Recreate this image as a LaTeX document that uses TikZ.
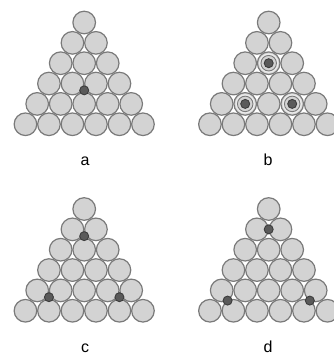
\documentclass[tikz,border=0pt]{standalone}
\usepackage{fontspec}
\setmainfont{Liberation Sans}
\usetikzlibrary{calc}
\definecolor{ballfill}{RGB}{211,211,211}
\definecolor{balledge}{RGB}{122,122,122}
\definecolor{dotfill}{RGB}{90,90,90}
\definecolor{dotedge}{RGB}{60,60,60}
\begin{document}
\begin{tikzpicture}[x=1pt,y=-1pt,
  ball/.style={circle,draw=balledge,fill=ballfill,line width=1.2pt,minimum size=22.6pt,inner sep=0pt},
  dotnode/.style={circle,draw=dotedge,fill=dotfill,line width=0.9pt,minimum size=9pt,inner sep=0pt},
  halo/.style={circle,fill=ballfill!45!white,minimum size=19.5pt,inner sep=0pt},
  ring/.style={circle,draw=balledge,fill=ballfill,line width=0.9pt,minimum size=15.5pt,inner sep=0pt},
  lab/.style={font=\fontsize{16}{18}\selectfont,anchor=base,inner sep=0pt}]
\useasboundingbox (0,0) rectangle (333,354);
\def\bsep{23.5}
\def\vsep{20.35}
\foreach \nm/\cx/\cy in {a/84.2/22.5, b/268.7/22.5, c/84.2/209, d/268.7/209}{
  \foreach \r in {0,...,5}{
    \foreach \k in {0,...,\r}{
      \node[ball] (\nm-\r-\k) at ({\cx+(\k-\r/2)*\bsep},{\cy+\r*\vsep}) {};
    }
  }
}
% a
\node[dotnode] (a-dot) at ($(a-3-1)!0.5!(a-3-2)!0.3333!(a-4-2)$) {};
% b
\foreach \p in {2-1,4-1,4-3}{
  \node[halo] (b-halo-\p) at (b-\p) {};
  \node[ring] (b-ring-\p) at (b-\p) {};
  \node[dotnode] (b-dot-\p) at (b-\p) {};
}
% c
\node[dotnode] (c-dot-1) at ($(c-1-0)!0.5!(c-1-1)!0.3333!(c-2-1)$) {};
\node[dotnode] (c-dot-2) at ($(c-4-0)!0.5!(c-4-1)!0.3333!(c-5-1)$) {};
\node[dotnode] (c-dot-3) at ($(c-4-3)!0.5!(c-4-4)!0.3333!(c-5-4)$) {};
% d
\node[dotnode] (d-dot-1) at ($(d-1-0)!0.5!(d-1-1)$) {};
\node[dotnode] (d-dot-2) at ($(d-4-0)!0.5!(d-5-1)$) {};
\node[dotnode] (d-dot-3) at ($(d-4-4)!0.5!(d-5-4)$) {};
% labels
\node[lab] (la) at (85,165) {a};
\node[lab] (lb) at (268,165) {b};
\node[lab] (lc) at (85,352) {c};
\node[lab] (ld) at (268,352) {d};
\end{tikzpicture}
\end{document}
